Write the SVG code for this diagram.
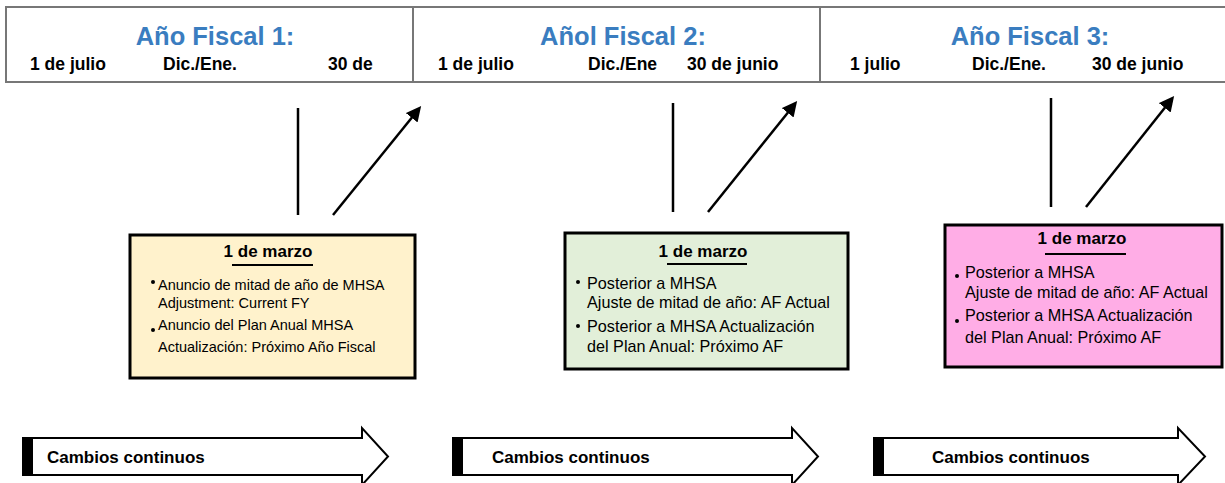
<svg xmlns="http://www.w3.org/2000/svg" width="1225" height="483" viewBox="0 0 1225 483">
<style>
.hdr{fill:#3A7DC0;font-family:"Liberation Sans",Arial,sans-serif;font-weight:bold;font-size:25.5px;text-anchor:middle}
.sub{fill:#000;font-family:"Liberation Sans",Arial,sans-serif;font-weight:bold;font-size:17.5px}
.ttl{fill:#000;font-family:"Liberation Sans",Arial,sans-serif;font-weight:bold;font-size:17px;text-anchor:middle}
.b1{fill:#000;font-family:"Liberation Sans",Arial,sans-serif;font-size:14.5px}
.b2{fill:#000;font-family:"Liberation Sans",Arial,sans-serif;font-size:16.2px}
.cc{fill:#000;font-family:"Liberation Sans",Arial,sans-serif;font-weight:bold;font-size:17px}
.ln{stroke:#000;stroke-width:2.5;fill:none}
.box{stroke:#000;stroke-width:3}
.big{fill:#fff;stroke:#000;stroke-width:2}
</style>
<defs>
<marker id="ah" markerWidth="6" markerHeight="6" refX="4" refY="3" orient="auto" markerUnits="strokeWidth">
<path d="M0,0 L6,3 L0,6 Z" fill="#000"/>
</marker>
</defs>
<g id="header">
<rect x="6" y="7" width="1225" height="75" fill="#fff" stroke="#777" stroke-width="2"/>
<line x1="413" y1="7" x2="413" y2="82" stroke="#777" stroke-width="2"/>
<line x1="820" y1="7" x2="820" y2="82" stroke="#777" stroke-width="2"/>
<text class="hdr" x="215" y="45">Año Fiscal 1:</text>
<text class="sub" x="30" y="70">1 de julio</text>
<text class="sub" x="163" y="70">Dic./Ene.</text>
<text class="sub" x="328" y="70">30 de</text>
<text class="hdr" x="623" y="45">Añol Fiscal 2:</text>
<text class="sub" x="438" y="70">1 de julio</text>
<text class="sub" x="588" y="70">Dic./Ene</text>
<text class="sub" x="687" y="70">30 de junio</text>
<text class="hdr" x="1030" y="45">Año Fiscal 3:</text>
<text class="sub" x="850" y="70">1 julio</text>
<text class="sub" x="972" y="70">Dic./Ene.</text>
<text class="sub" x="1092" y="70">30 de junio</text>
</g>
<g id="connectors">
<line class="ln" x1="298" y1="108" x2="298" y2="215"/>
<line class="ln" x1="333" y1="215" x2="418" y2="110" marker-end="url(#ah)"/>
<line class="ln" x1="673" y1="103" x2="673" y2="212"/>
<line class="ln" x1="708" y1="212" x2="794" y2="105" marker-end="url(#ah)"/>
<line class="ln" x1="1051" y1="98" x2="1051" y2="207"/>
<line class="ln" x1="1086" y1="207" x2="1171" y2="100" marker-end="url(#ah)"/>
</g>
<g id="box1">
<rect class="box" x="130" y="235" width="285" height="143" fill="#FFF2CC"/>
<text class="ttl" x="268" y="257">1 de marzo</text>
<line x1="232" y1="265" x2="313" y2="265" stroke="#000" stroke-width="2"/>
<circle cx="153" cy="282" r="2"/>
<text class="b1" x="158" y="290">Anuncio de mitad de año de MHSA</text>
<text class="b1" x="158" y="308">Adjustment: Current FY</text>
<circle cx="153" cy="330" r="2"/>
<text class="b1" x="158" y="330">Anuncio del Plan Anual MHSA</text>
<text class="b1" x="158" y="352">Actualización: Próximo Año Fiscal</text>
</g>
<g id="box2">
<rect class="box" x="565" y="233" width="283" height="136" fill="#E2EFD9"/>
<text class="ttl" x="703" y="257">1 de marzo</text>
<line x1="667" y1="264" x2="747" y2="264" stroke="#000" stroke-width="2"/>
<circle cx="578" cy="282" r="2"/>
<text class="b2" x="587" y="289">Posterior a MHSA</text>
<text class="b2" x="587" y="308">Ajuste de mitad de año: AF Actual</text>
<circle cx="578" cy="326" r="2"/>
<text class="b2" x="587" y="332">Posterior a MHSA Actualización</text>
<text class="b2" x="587" y="352">del Plan Anual: Próximo AF</text>
</g>
<g id="box3">
<rect class="box" x="945" y="225" width="277" height="142" fill="#FFADE6"/>
<text class="ttl" x="1082" y="244">1 de marzo</text>
<line x1="1045" y1="254" x2="1126" y2="254" stroke="#000" stroke-width="2"/>
<circle cx="957" cy="276" r="2"/>
<text class="b2" x="965" y="278">Posterior a MHSA</text>
<text class="b2" x="965" y="298">Ajuste de mitad de año: AF Actual</text>
<circle cx="957" cy="321" r="2"/>
<text class="b2" x="965" y="321">Posterior a MHSA Actualización</text>
<text class="b2" x="965" y="343">del Plan Anual: Próximo AF</text>
</g>
<g id="arrow1">
<path class="big" d="M23,438 L362,438 L362,428 L388,456.5 L362,485 L362,475 L23,475 Z"/>
<rect x="22" y="437" width="11" height="39" fill="#000"/>
<text class="cc" x="47" y="463">Cambios continuos</text>
</g>
<g id="arrow2">
<path class="big" d="M453,438 L792,438 L792,428 L818,456.5 L792,485 L792,475 L453,475 Z"/>
<rect x="452" y="437" width="11" height="39" fill="#000"/>
<text class="cc" x="492" y="463">Cambios continuos</text>
</g>
<g id="arrow3">
<path class="big" d="M874,438 L1178,438 L1178,428 L1205,456.5 L1178,485 L1178,475 L874,475 Z"/>
<rect x="873" y="437" width="11" height="39" fill="#000"/>
<text class="cc" x="932" y="463">Cambios continuos</text>
</g>
</svg>
